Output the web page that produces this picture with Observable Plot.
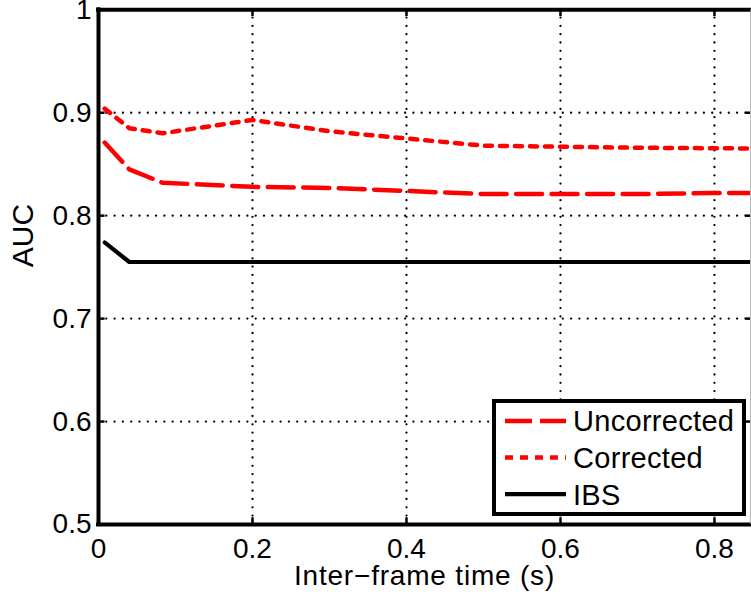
<!DOCTYPE html>
<html>
<head>
<meta charset="utf-8">
<script src="https://cdn.jsdelivr.net/npm/d3@7"></script>
<script src="https://cdn.jsdelivr.net/npm/@observablehq/plot@0.6"></script>
<style>
  html, body { margin: 0; padding: 0; background: #fff; }
  #chart { width: 751px; height: 603px; }
  svg { font-family: "Liberation Sans", Arial, Helvetica, sans-serif; }
</style>
</head>
<body>
<div id="chart"></div>
<script>
// ---- data ----
const times = [0.008, 0.04, 0.083, 0.2, 0.3, 0.4, 0.5, 0.6, 0.7, 0.8, 0.9];
const uncorrected = [0.871, 0.845, 0.832, 0.828, 0.827, 0.824, 0.821, 0.821, 0.821, 0.822, 0.822];
const corrected   = [0.904, 0.885, 0.880, 0.893, 0.882, 0.875, 0.868, 0.867, 0.866, 0.8655, 0.865];
const ibs         = [0.774, 0.755, 0.755, 0.755, 0.755, 0.755, 0.755, 0.755, 0.755, 0.755, 0.755];
const seriesNames = ["Uncorrected", "Corrected", "IBS"];
const xTicks = [0, 0.2, 0.4, 0.6, 0.8];
const yTicks = [0.5, 0.6, 0.7, 0.8, 0.9, 1];
const xDomain = [0, 0.8468];
const yDomain = [0.5, 1];
const xLabel = "Inter\u2212frame time (s)";
const yLabel = "AUC";

const styles = {
  Uncorrected: {stroke: "#ff0000", strokeWidth: 4.5, strokeDasharray: "26,9.5", legendDash: "27,8"},
  Corrected:   {stroke: "#ff0000", strokeWidth: 4.5, strokeDasharray: "7,8", legendDash: "8,7"},
  IBS:         {stroke: "#000000", strokeWidth: 4.2, strokeDasharray: null, legendDash: null}
};
const valuesBySeries = {Uncorrected: uncorrected, Corrected: corrected, IBS: ibs};
const rows = (name) => times.map((t, i) => ({t, v: valuesBySeries[name][i], series: name}));

const innerX = xTicks.filter(d => d > 0);
const innerY = yTicks.filter(d => d > 0.5 && d < 1);
const dotGrid = {stroke: "black", strokeWidth: 2.3, strokeDasharray: "0,8.3", strokeLinecap: "round"};

const plot = Plot.plot({
  width: 751,
  height: 603,
  marginLeft: 98,
  marginRight: 1,
  marginTop: 9.3,
  marginBottom: 79,
  x: {domain: xDomain},
  y: {domain: yDomain},
  style: {fontFamily: "Liberation Sans, Arial, sans-serif", background: "white", color: "black"},
  marks: [
    // dotted grid
    Plot.ruleX(innerX, dotGrid),
    Plot.ruleY(innerY, dotGrid),
    // data lines
    ...seriesNames.map(name => Plot.line(rows(name), {
      x: "t", y: "v", clip: true, strokeLinejoin: "round",
      stroke: styles[name].stroke, strokeWidth: styles[name].strokeWidth,
      strokeDasharray: styles[name].strokeDasharray
    })),
    // inward tick marks
    Plot.ruleX(innerX, {y1: 0.5, y2: 0.5065, stroke: "black", strokeWidth: 2.5}),
    Plot.ruleX(innerX, {y1: 1, y2: 0.9935, stroke: "black", strokeWidth: 2.5}),
    Plot.ruleY(innerY, {x1: 0, x2: 0.0085, stroke: "black", strokeWidth: 2.5}),
    Plot.ruleY(innerY, {x1: xDomain[1] - 0.006, x2: xDomain[1], stroke: "black", strokeWidth: 2.5}),
    // box
    Plot.ruleY([yDomain[1]], {stroke: "black", strokeWidth: 4, strokeLinecap: "square"}),
    Plot.ruleY([yDomain[0]], {stroke: "black", strokeWidth: 4, strokeLinecap: "square"}),
    Plot.ruleX([xDomain[0]], {stroke: "black", strokeWidth: 4, strokeLinecap: "square"}),
    Plot.ruleX([xDomain[1]], {stroke: "#9a9a9a", strokeWidth: 1.2, dx: 0.4}),
    // axes
    Plot.axisX(xTicks, {tickSize: 0, tickPadding: 14, fontSize: 28, tickFormat: d => String(d), label: null}),
    Plot.axisY(yTicks, {tickSize: 0, tickPadding: 7, fontSize: 28, tickFormat: d => String(d), label: null}),
    Plot.text([xLabel], {frameAnchor: "bottom", lineAnchor: "middle", dy: 52, fontSize: 28, text: d => d}),
    Plot.text([yLabel], {frameAnchor: "left", lineAnchor: "middle", dx: -75, rotate: -90, fontSize: 30, text: d => d})
  ]
});

document.getElementById("chart").appendChild(plot);

// letter spacing for the axis label (reference text is slightly wider)
d3.select(plot).selectAll("text").filter(function() { return this.textContent === xLabel; })
  .attr("letter-spacing", "0.8px");

// ---- legend inside the axes (lower right) ----
const svg = d3.select(plot);
const lg = svg.append("g").attr("transform", "translate(494,401)")
  .attr("text-anchor", "start");
lg.append("rect").attr("x", 0).attr("y", 0).attr("width", 250).attr("height", 113)
  .attr("fill", "white").attr("stroke", "black").attr("stroke-width", 4);
seriesNames.forEach((name, i) => {
  const cy = 20 + i * 36.6;
  const s = styles[name];
  const ln = lg.append("line").attr("x1", 11).attr("x2", 72).attr("y1", cy).attr("y2", cy)
    .attr("stroke", s.stroke).attr("stroke-width", s.strokeWidth);
  if (s.legendDash) ln.attr("stroke-dasharray", s.legendDash);
  lg.append("text").attr("x", 79).attr("y", cy).attr("dy", "0.36em")
    .attr("text-anchor", "start")
    .attr("font-size", 29).attr("letter-spacing", "0.3px").attr("fill", "black")
    .attr("font-family", "Liberation Sans, Arial, sans-serif").text(name);
});
</script>
</body>
</html>
